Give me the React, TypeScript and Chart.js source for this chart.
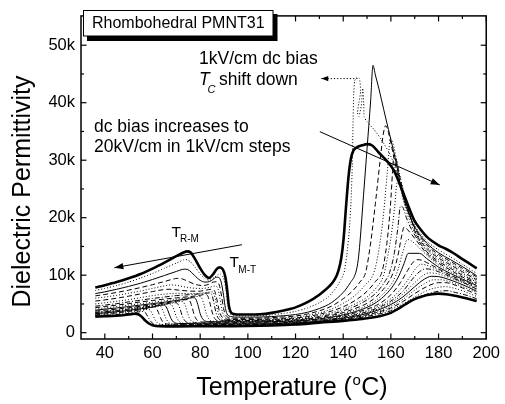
import React, { useEffect, useRef } from 'react';
import { Chart, registerables } from 'chart.js';

Chart.register(...registerables);

const FONT = 'Arial, "Liberation Sans", Helvetica, sans-serif';

// ---- axis ticks ----
const xTickValues = [40, 60, 80, 100, 120, 140, 160, 180, 200];
const xMinorTickValues = [50, 70, 90, 110, 130, 150, 170, 190];
const yTickValues = [0, 10000, 20000, 30000, 40000, 50000];
const yTickLabels = ['0', '10k', '20k', '30k', '40k', '50k'];
const yMinorTickValues = [5000, 15000, 25000, 35000, 45000];

// ---- series: [temperature (°C), permittivity], dc bias 0..20 kV/cm ----
const curve00 = [[36,7850],[40,8250],[45,8800],[50,9450],[55,10200],[60,11150],[65,12200],[70,13300],[73,13950],[74.5,14150],[76,13950],[78,12700],[80,11200],[82,10000],[83.7,9500],[85.3,10100],[87,11100],[88.2,11350],[89.5,11000],[90.5,9800],[91.3,7500],[92,4800],[92.8,3600],[94,3250],[97,3150],[100,3150],[105,3200],[110,3450],[115,3850],[120,4400],[125,5300],[130,6600],[134,8000],[136.5,9300],[138,10800],[139.2,13000],[140.2,16500],[141.2,22000],[142.2,27000],[143.2,30200],[144.3,31700],[146,32300],[148,32600],[150,32800],[152,32600],[155,31300],[158,30000],[161,28400],[163,26600],[165,24500],[168,21300],[170,19400],[172,18200],[175,16700],[180,15200],[183,14600],[186,13900],[190,12800],[193,12000],[196,11200]];
const curve01 = [[36,7350],[40,7700],[45,8200],[50,8800],[55,9500],[60,10300],[65,11200],[70,12100],[73,12650],[74.5,12700],[76,12300],[78,11300],[80,10200],[82,9400],[84,9100],[86,9600],[87.5,10100],[88.5,10200],[89.8,9600],[90.8,7500],[91.6,4500],[92.5,3300],[94,3000],[97,2900],[100,2900],[105,2950],[110,3100],[115,3350],[120,3700],[125,4300],[130,5200],[134,6300],[137,7800],[139,9200],[140.4,10500],[141.5,13500],[142.5,17500],[143.3,23000],[143.8,29000],[144.1,36000],[144.4,41500],[144.8,43800],[145.6,44400],[146.8,44300],[147.3,42000],[146.6,40000],[146,38300],[146.6,37600],[147.6,39500],[148.2,42500],[148.6,40000],[148.8,37500],[150,36700],[153,35300],[156,33600],[159,31500],[161,29700],[163,26800],[165,24000],[168,20700],[170,18600],[175,15900],[180,14400],[185,13200],[190,11900],[196,10300]];
const curve02 = [[36,6800],[40,7100],[45,7550],[50,8050],[55,8600],[60,9250],[65,9950],[70,10650],[72.5,11000],[74,11050],[75.5,10800],[77.5,10000],[80,9100],[82,8800],[84,8900],[85.5,9300],[86.8,9650],[87.8,9600],[88.8,8800],[89.8,6500],[90.6,4200],[91.5,3100],[93,2800],[96,2700],[100,2700],[105,2720],[110,2800],[115,2950],[120,3150],[125,3550],[130,4200],[135,5200],[140,7000],[143,8700],[145.3,10500],[146.3,12700],[147,15600],[148.5,23800],[150,32000],[151.5,40300],[152.5,46500],[153.5,44800],[155,42400],[157,38800],[159,35300],[161,31800],[162.5,29000],[164.5,24700],[167,21200],[170,18400],[175,15600],[180,13900],[185,12700],[190,11500],[196,9900]];
const curve03 = [[36,6400],[40,6650],[45,7000],[50,7400],[55,7850],[60,8350],[65,8900],[68,9250],[70.5,9450],[72.5,9350],[75,8900],[78,8400],[81,8200],[83.5,8400],[85.5,8800],[86.8,8850],[88,8300],[89,6300],[89.8,4200],[90.8,3000],[92.5,2600],[96,2500],[100,2500],[105,2540],[110,2620],[115,2740],[120,2900],[125,3250],[130,3800],[135,4600],[140,5900],[144,7300],[147,8800],[149.4,10500],[151.5,15600],[153.5,22500],[155.5,30000],[156.8,34500],[157.8,36000],[159,34800],[161,31000],[163,27200],[165,24000],[168,20300],[170,18200],[175,15300],[180,13600],[185,12400],[190,11200],[196,9700]];
const curve04 = [[36,6000],[40,6200],[45,6500],[50,6850],[55,7250],[60,7700],[64,8050],[67.5,8300],[70,8250],[73,8000],[77,7750],[81,7700],[84,7900],[86,8100],[87.2,7900],[88.2,6200],[89,4200],[90,2900],[92,2450],[96,2380],[100,2380],[105,2420],[110,2480],[115,2580],[120,2700],[125,3000],[130,3450],[135,4100],[140,5100],[145,6500],[149,8200],[152.9,10500],[155,14500],[157,21000],[158.6,28500],[159.8,33800],[161,32800],[162.5,29800],[164.5,26000],[167,22000],[170,18000],[175,15000],[180,13300],[185,12100],[190,10900],[196,9400]];
const curve05 = [[36,5500],[40,5700],[45,6000],[50,6350],[55,6750],[60,7150],[64,7450],[67,7550],[71,7400],[75,7250],[79,7200],[82,7350],[84.5,7550],[86,7300],[87,5800],[88,3800],[89.2,2700],[91,2350],[95,2280],[100,2280],[105,2310],[110,2360],[115,2440],[120,2550],[125,2800],[130,3200],[135,3750],[140,4500],[145,5600],[150,7200],[153.5,8900],[156.4,10800],[158.3,15500],[159.8,22000],[160.7,28000],[161.3,31000],[162.3,30000],[163.8,27000],[165.5,24000],[168,20500],[170,17700],[175,14700],[180,13000],[185,11800],[190,10600],[196,9200]];
const curve06 = [[36,5000],[40,5200],[45,5450],[50,5750],[55,6100],[60,6450],[65,6700],[70,6850],[75,6800],[80,6850],[83,7000],[85.3,7100],[86.3,6000],[87.2,4000],[88.3,2700],[90,2250],[95,2200],[100,2200],[105,2220],[110,2260],[115,2340],[120,2440],[125,2650],[130,3000],[135,3450],[140,4100],[145,5000],[150,6200],[154,7900],[157,10000],[158.3,12500],[160,16500],[161.5,21500],[162.6,26000],[163.5,25800],[165,23300],[167,20500],[170,17400],[175,14400],[180,12700],[185,11500],[190,10300],[196,9000]];
const curve07 = [[36,4600],[40,4800],[45,5050],[50,5350],[55,5650],[60,5950],[65,6200],[70,6450],[75,6600],[80,6750],[83.5,6900],[84.7,6750],[85.6,5500],[86.5,3700],[87.6,2500],[89.5,2150],[95,2120],[100,2120],[105,2140],[110,2180],[115,2250],[120,2330],[125,2500],[130,2800],[135,3200],[140,3800],[145,4600],[150,5700],[154,7000],[157,8600],[159.5,10500],[161.5,14000],[163,18500],[164,22000],[165,21800],[166.5,20000],[168,18500],[170,17000],[175,14100],[180,12400],[185,11200],[190,10000],[196,8800]];
const curve08 = [[36,4350],[40,4550],[45,4800],[50,5050],[55,5350],[60,5600],[65,5850],[70,6050],[75,6250],[80,6500],[82,6650],[83,6500],[84,5300],[85,3600],[86.2,2400],[88,2080],[95,2040],[100,2040],[105,2060],[110,2100],[115,2160],[120,2220],[125,2380],[130,2650],[135,3000],[140,3500],[145,4200],[150,5100],[154,6300],[158,8200],[161,10500],[163,13500],[164.5,16800],[165.6,18400],[166.8,18000],[168.5,17200],[170,16400],[175,13800],[180,12100],[185,10900],[190,9700],[196,8600]];
const curve09 = [[36,4100],[40,4300],[45,4550],[50,4800],[55,5050],[60,5300],[65,5550],[70,5800],[75,6050],[79.5,6300],[80.5,6150],[81.5,5000],[82.5,3400],[83.7,2300],[85.5,2000],[95,1960],[100,1960],[105,1980],[110,2010],[115,2070],[120,2120],[125,2280],[130,2500],[135,2820],[140,3300],[145,3900],[150,4700],[154,5700],[158,7300],[161,9000],[163,11000],[165,14000],[167,16200],[168.5,16000],[170,15500],[175,13500],[180,11800],[185,10600],[190,9500],[196,8400]];
const curve10 = [[36,3900],[40,4100],[45,4300],[50,4550],[55,4800],[60,5050],[65,5300],[70,5600],[74,5850],[77,6100],[78,5950],[79,4900],[80,3300],[81.3,2250],[83.5,1930],[90,1890],[100,1880],[105,1900],[110,1930],[115,1980],[120,2040],[125,2180],[130,2400],[135,2700],[140,3100],[145,3650],[150,4400],[154,5300],[158,6700],[161,8200],[163.5,10000],[165.5,12000],[167.3,13800],[172,13800],[175,12900],[180,11400],[185,10300],[190,9300],[196,8200]];
const curve11 = [[36,3750],[40,3900],[45,4100],[50,4350],[55,4600],[60,4850],[65,5150],[70,5450],[74.5,5750],[75.5,5600],[76.5,4600],[77.5,3100],[78.8,2150],[81,1850],[90,1810],[100,1800],[105,1820],[110,1850],[115,1900],[120,1960],[125,2090],[130,2300],[135,2580],[140,2950],[145,3450],[150,4100],[155,5000],[160,6600],[164,8700],[167,10800],[169,12100],[171,12700],[173,12600],[175,12200],[180,11100],[185,10000],[190,9100],[196,8000]];
const curve12 = [[36,3600],[40,3750],[45,3950],[50,4200],[55,4450],[60,4700],[65,5000],[70,5300],[72,5450],[73,5300],[74,4400],[75,3000],[76.3,2050],[78.5,1780],[90,1730],[100,1720],[105,1740],[110,1770],[115,1820],[120,1880],[125,2000],[130,2200],[135,2460],[140,2800],[145,3250],[150,3850],[155,4650],[160,5900],[164,7500],[168,9700],[170.5,11200],[172.5,11900],[174.5,11800],[177,11400],[180,10900],[185,9900],[190,8900],[196,7800]];
const curve13 = [[36,3500],[40,3650],[45,3850],[50,4100],[55,4350],[60,4650],[65,4950],[69.5,5200],[70.5,5050],[71.5,4200],[72.5,2900],[73.8,1980],[76,1720],[90,1660],[100,1650],[105,1670],[110,1700],[115,1750],[120,1820],[125,1930],[130,2120],[135,2360],[140,2700],[145,3100],[150,3650],[155,4400],[160,5500],[165,7200],[169,9300],[172,10600],[174.5,11100],[177,11000],[180,10600],[183,10100],[186,9500],[190,8800],[196,7600]];
const curve14 = [[36,3400],[40,3550],[45,3750],[50,3980],[55,4250],[60,4550],[64,4800],[67,5000],[68,4850],[69,4000],[70,2800],[71.3,1900],[73.5,1650],[90,1590],[100,1580],[105,1600],[110,1630],[115,1680],[120,1760],[125,1860],[130,2050],[135,2280],[140,2600],[145,2980],[150,3500],[155,4200],[160,5200],[165,6700],[170,8700],[173,9800],[176,10400],[179,10300],[183,9800],[187,9200],[191,8500],[196,7400]];
const curve15 = [[36,3300],[40,3450],[45,3650],[50,3880],[55,4150],[60,4450],[64.5,4800],[65.5,4650],[66.5,3800],[67.5,2700],[68.8,1850],[71,1600],[90,1530],[100,1520],[105,1540],[110,1570],[115,1620],[120,1700],[125,1800],[130,1990],[135,2210],[140,2500],[145,2870],[150,3350],[155,4000],[160,4900],[165,6200],[170,8000],[174,9300],[177,9800],[180,9750],[184,9300],[188,8700],[192,8000],[196,7200]];
const curve16 = [[36,3200],[40,3350],[45,3550],[50,3780],[55,4050],[59,4350],[62.5,4650],[63.5,4500],[64.5,3700],[65.5,2600],[66.8,1780],[69,1540],[90,1470],[100,1460],[105,1480],[110,1510],[115,1560],[120,1640],[125,1740],[130,1940],[135,2150],[140,2420],[145,2770],[150,3220],[155,3800],[160,4600],[165,5800],[170,7400],[174,8500],[178,9200],[181,9200],[185,8800],[189,8200],[193,7500],[196,7000]];
const curve17 = [[36,3100],[40,3250],[45,3450],[50,3700],[55,4000],[58,4250],[60.5,4500],[61.5,4350],[62.5,3500],[63.5,2450],[64.8,1700],[67,1480],[90,1410],[100,1400],[105,1420],[110,1450],[115,1500],[120,1590],[125,1690],[130,1900],[135,2090],[140,2340],[145,2670],[150,3100],[155,3620],[160,4300],[165,5400],[170,6800],[175,8000],[180,8700],[183,8700],[186,8400],[190,7800],[193,7200],[196,6700]];
const curve18 = [[36,3000],[40,3120],[45,3300],[50,3530],[55,3800],[58,4050],[59,3900],[60,3200],[61,2300],[62.3,1620],[64.5,1420],[90,1350],[100,1340],[105,1360],[110,1390],[115,1440],[120,1540],[125,1640],[130,1850],[135,2030],[140,2270],[145,2580],[150,2980],[155,3450],[160,4050],[165,5000],[170,6200],[175,7300],[180,7900],[183,8000],[186,7800],[190,7300],[193,6800],[196,6300]];
const curve19 = [[36,2900],[40,3000],[45,3150],[50,3350],[54,3600],[56,3700],[57,3500],[58,2800],[59.2,2000],[60.5,1500],[63,1320],[90,1280],[100,1270],[105,1290],[110,1320],[115,1380],[120,1490],[125,1590],[130,1800],[135,1960],[140,2200],[145,2480],[150,2850],[155,3250],[160,3800],[165,4650],[170,5800],[175,6700],[180,7200],[183.5,7300],[187,7000],[191,6600],[196,5900]];
const curve20 = [[36,2800],[40,2850],[45,2950],[50,3150],[52.5,3300],[54,3200],[55.5,2750],[57,2100],[58.5,1600],[60,1300],[63,1130],[70,1100],[80,1120],[90,1140],[100,1160],[110,1250],[120,1430],[130,1750],[140,2050],[145,2250],[150,2500],[155.6,2900],[160,3450],[163,4150],[166,4900],[169.5,5750],[173,6300],[176.5,6650],[180,6800],[184,6650],[188,6350],[192,5950],[196,5500]];

const curves = [curve00, curve01, curve02, curve03, curve04, curve05, curve06, curve07, curve08, curve09, curve10,
  curve11, curve12, curve13, curve14, curve15, curve16, curve17, curve18, curve19, curve20];

// ---- styles ----
const DOT = [1, 2];
const DASH = [5, 3];
const DASHDOT = [5, 2, 1, 2];
const SOLID: number[] = [];
const lineStyles = [
  { w: 2.6, dash: SOLID }, { w: 1, dash: DOT }, { w: 1, dash: SOLID }, { w: 1, dash: DASH },
  { w: 1, dash: DOT }, { w: 1, dash: DASH }, { w: 1, dash: DOT }, { w: 1, dash: DASHDOT },
  { w: 1, dash: DASH }, { w: 1, dash: DOT }, { w: 1, dash: SOLID }, { w: 1, dash: DASH },
  { w: 1, dash: DOT }, { w: 1, dash: DASHDOT }, { w: 1, dash: DOT }, { w: 1, dash: SOLID },
  { w: 1, dash: DOT }, { w: 1, dash: DASH }, { w: 1, dash: DOT }, { w: 1, dash: DASHDOT },
  { w: 2.6, dash: SOLID },
];

// annotation arrows in data coordinates
const arrowBias = [[130.2, 34960], [180.5, 25700]];
const arrowRM = [[97.5, 15300], [44.0, 11300]];
const arrowTc = [[146.0, 44200], [130.8, 44200]];

function drawArrow(ctx: CanvasRenderingContext2D, x1: number, y1: number, x2: number, y2: number, dash: number[], len: number, half: number) {
  ctx.save();
  ctx.lineWidth = 1;
  ctx.setLineDash(dash);
  ctx.beginPath();
  ctx.moveTo(x1, y1);
  ctx.lineTo(x2, y2);
  ctx.stroke();
  ctx.setLineDash([]);
  const a = Math.atan2(y2 - y1, x2 - x1);
  const c = Math.cos(a), s = Math.sin(a);
  ctx.beginPath();
  ctx.moveTo(x2, y2);
  ctx.lineTo(x2 - len * c + half * s, y2 - len * s - half * c);
  ctx.lineTo(x2 - len * c - half * s, y2 - len * s + half * c);
  ctx.closePath();
  ctx.fill();
  ctx.restore();
}

const decorations = {
  id: 'decorations',
  afterDraw(chart: any) {
    const { ctx, chartArea: a, scales } = chart;
    const xs = scales.x, ys = scales.y;
    ctx.save();
    ctx.strokeStyle = '#000';
    ctx.fillStyle = '#000';
    // frame
    ctx.lineWidth = 1.5;
    ctx.strokeRect(a.left, a.top, a.right - a.left, a.bottom - a.top);
    // inward ticks
    ctx.lineWidth = 1.2;
    const seg = (x1: number, y1: number, x2: number, y2: number) => {
      ctx.beginPath(); ctx.moveTo(x1, y1); ctx.lineTo(x2, y2); ctx.stroke();
    };
    xTickValues.forEach(v => { const p = xs.getPixelForValue(v); seg(p, a.bottom, p, a.bottom - 5.5); seg(p, a.top, p, a.top + 5.5); });
    xMinorTickValues.forEach(v => { const p = xs.getPixelForValue(v); seg(p, a.bottom, p, a.bottom - 3); seg(p, a.top, p, a.top + 3); });
    yTickValues.forEach(v => { const p = ys.getPixelForValue(v); seg(a.left, p, a.left + 5.5, p); seg(a.right, p, a.right - 5.5, p); });
    yMinorTickValues.forEach(v => { const p = ys.getPixelForValue(v); seg(a.left, p, a.left + 3, p); seg(a.right, p, a.right - 3, p); });

    // axis titles
    ctx.font = `25px ${FONT}`;
    ctx.textBaseline = 'alphabetic';
    ctx.save();
    ctx.translate(30, 191.5);
    ctx.rotate(-Math.PI / 2);
    ctx.textAlign = 'center';
    ctx.fillText('Dielectric Permittivity', 0, 0);
    ctx.restore();

    ctx.textAlign = 'left';
    const p1 = 'Temperature (';
    const p3 = 'C)';
    ctx.font = `25px ${FONT}`;
    const w1 = ctx.measureText(p1).width;
    const w3 = ctx.measureText(p3).width;
    ctx.font = `15px ${FONT}`;
    const w2 = ctx.measureText('o').width + 1;
    const total = w1 + w2 + w3;
    const x0 = 292 - total / 2;
    ctx.font = `25px ${FONT}`;
    ctx.fillText(p1, x0, 395);
    ctx.font = `15px ${FONT}`;
    ctx.fillText('o', x0 + w1 + 0.5, 385);
    ctx.font = `25px ${FONT}`;
    ctx.fillText(p3, x0 + w1 + w2, 395);

    // legend box with shadow
    ctx.fillRect(87, 14, 190.5, 27);
    ctx.fillStyle = '#fff';
    ctx.fillRect(83, 10, 190, 26);
    ctx.fillStyle = '#000';
    ctx.lineWidth = 1;
    ctx.strokeRect(83.5, 10.5, 189.5, 25.5);
    ctx.font = `16px ${FONT}`;
    ctx.fillText('Rhombohedral PMNT31', 92, 27.5);

    // annotations
    ctx.font = `17.5px ${FONT}`;
    ctx.fillText('1kV/cm dc bias', 199, 64.3);
    ctx.font = `italic 17.5px ${FONT}`;
    ctx.fillText('T', 199, 85);
    ctx.font = `italic 11px ${FONT}`;
    ctx.fillText('C', 207.5, 93);
    ctx.font = `17.5px ${FONT}`;
    ctx.fillText('shift down', 219, 85);
    ctx.fillText('dc bias increases to', 94, 131.5);
    ctx.fillText('20kV/cm in 1kV/cm steps', 94, 151.5);

    ctx.font = `15.5px ${FONT}`;
    ctx.fillText('T', 171.5, 236.5);
    ctx.fillText('T', 229.5, 266.7);
    ctx.font = `10px ${FONT}`;
    ctx.fillText('R-M', 180, 241.8);
    ctx.fillText('M-T', 238.3, 273.3);

    const px = (pt: number[]) => [xs.getPixelForValue(pt[0]), ys.getPixelForValue(pt[1])];
    let [ax1, ay1] = px(arrowBias[0]); let [ax2, ay2] = px(arrowBias[1]);
    drawArrow(ctx, ax1, ay1, ax2, ay2, [], 9, 3.2);
    [ax1, ay1] = px(arrowRM[0]); [ax2, ay2] = px(arrowRM[1]);
    drawArrow(ctx, ax1, ay1, ax2, ay2, [], 9, 3.2);
    [ax1, ay1] = px(arrowTc[0]); [ax2, ay2] = px(arrowTc[1]);
    drawArrow(ctx, ax1, ay1, ax2, ay2, [1.2, 2], 7, 2.6);

    ctx.restore();
  },
};

export default function App() {
  const ref = useRef<HTMLCanvasElement | null>(null);
  useEffect(() => {
    if (!ref.current) return;
    const datasets = curves.map((c, i) => ({
      data: c.map(([x, y]) => ({ x, y })),
      borderColor: '#000',
      backgroundColor: '#000',
      borderWidth: lineStyles[i].w,
      borderDash: lineStyles[i].dash,
      pointRadius: 0,
      fill: false,
      tension: i === 1 ? 0.15 : 0,
      cubicInterpolationMode: i === 1 ? 'default' : 'monotone',
      borderCapStyle: 'butt',
      borderJoinStyle: 'round',
    }));
    const chart = new Chart(ref.current, {
      type: 'line',
      data: { datasets } as any,
      options: {
        responsive: false,
        animation: false,
        events: [],
        parsing: true,
        layout: { padding: { left: 0, right: 15, top: 5, bottom: 0 } },
        plugins: { legend: { display: false }, tooltip: { enabled: false }, title: { display: false } },
        scales: {
          x: {
            type: 'linear',
            min: 30,
            max: 200,
            grid: { display: false, drawTicks: false },
            border: { display: false },
            ticks: { color: '#000', font: { family: FONT, size: 16.5 }, padding: 5, maxRotation: 0, autoSkip: false },
            afterBuildTicks: (s: any) => { s.ticks = xTickValues.map(value => ({ value })); },
            afterFit: (s: any) => { s.height = 65; },
          },
          y: {
            type: 'linear',
            min: -1100,
            max: 55100,
            grid: { display: false, drawTicks: false },
            border: { display: false },
            ticks: {
              color: '#000',
              font: { family: FONT, size: 16.5 },
              padding: 6,
              autoSkip: false,
              callback: (v: any) => { const i = yTickValues.indexOf(Number(v)); return i >= 0 ? yTickLabels[i] : ''; },
            },
            afterBuildTicks: (s: any) => { s.ticks = yTickValues.map(value => ({ value })); },
            afterFit: (s: any) => { s.width = 81; },
          },
        },
      } as any,
      plugins: [decorations],
    });
    return () => chart.destroy();
  }, []);
  return (
    <div style={{ position: 'absolute', left: 0, top: 0, width: 505, height: 404, background: '#fff' }}>
      <canvas ref={ref} width={505} height={404} style={{ display: 'block' }} />
    </div>
  );
}
